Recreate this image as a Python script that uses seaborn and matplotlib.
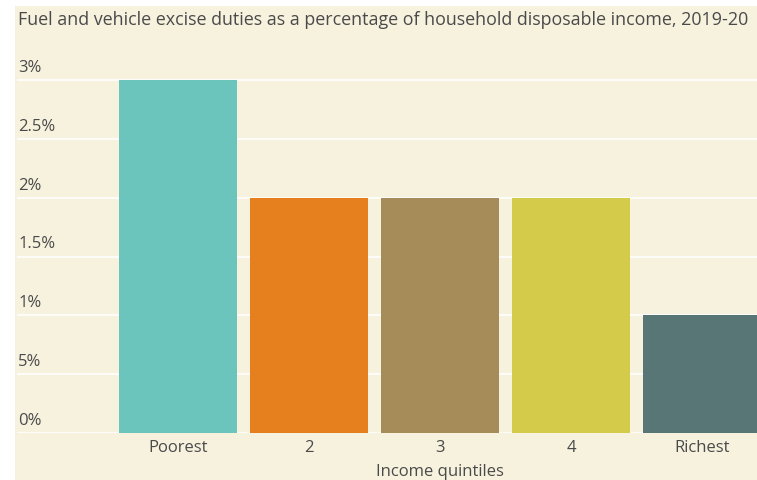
import matplotlib

matplotlib.use("Agg")

import matplotlib.pyplot as plt
import matplotlib.transforms as mtransforms
import pandas as pd
import seaborn as sns
from matplotlib.patches import Rectangle

# data
QUINTILES = ["Poorest", "2", "3", "4", "Richest"]
SHARE = [3.0, 2.0, 2.0, 2.0, 1.0]
Y_TICKS = [0, 0.5, 1, 1.5, 2, 2.5, 3]
Y_TICK_LABELS = ["0%", "5%", "1%", "1.5%", "2%", "2.5%", "3%"]
COLORS = ["#6cc5bc", "#e6801e", "#a58c58", "#d4cb4a", "#587676"]

TITLE = "Fuel and vehicle excise duties as a percentage of household disposable income, 2019-20"
X_LABEL = "Income quintiles"

BG = "#f7f2de"
TEXT = "#4a4a4a"


def main() -> None:
    sns.set_theme(style="white")
    plt.rcParams["font.family"] = ["Open Sans", "DejaVu Sans"]

    data = pd.DataFrame({"quintile": QUINTILES, "share": SHARE})

    W, H = 757, 480
    fig = plt.figure(figsize=(W / 100, H / 100), dpi=100, facecolor="white")
    fig.patches.append(
        Rectangle((15 / W, 0), 1, (H - 6) / H, transform=fig.transFigure,
                  facecolor=BG, edgecolor="none", zorder=-10)
    )

    ax_left, ax_right = 17, 757
    ax_bottom, ax_top = 433, 50
    ax = fig.add_axes([ax_left / W, (H - ax_bottom) / H,
                       (ax_right - ax_left) / W, (ax_bottom - ax_top) / H])
    ax.set_facecolor(BG)

    sns.barplot(
        data=data, x="quintile", y="share", hue="quintile",
        palette=COLORS, width=0.9, legend=False, saturation=1,
        linewidth=0, ax=ax,
    )

    px_per_unit = (433 - 80) / 3
    ax.set_ylim(0, 3 + (80 - ax_top) / px_per_unit)
    ax.set_xlim(-1.23, 4.42)

    ax.set_yticks(Y_TICKS)
    ax.set_yticklabels(Y_TICK_LABELS)
    ax.yaxis.grid(True, color="white", linewidth=1.2)
    ax.set_axisbelow(True)
    ax.tick_params(axis="y", length=0, pad=-1, labelsize=12, labelcolor=TEXT)
    offset = mtransforms.ScaledTranslation(0, 4 / 100, fig.dpi_scale_trans)
    for lab in ax.get_yticklabels():
        lab.set_horizontalalignment("left")
        lab.set_verticalalignment("bottom")
        lab.set_transform(lab.get_transform() + offset)

    ax.tick_params(axis="x", length=0, pad=5, labelsize=12, labelcolor=TEXT)
    ax.set_ylabel("")
    ax.set_xlabel(X_LABEL, fontsize=12, color=TEXT)
    ax.xaxis.set_label_coords(
        2, -0.08, transform=mtransforms.blended_transform_factory(ax.transData, ax.transAxes)
    )
    for spine in ax.spines.values():
        spine.set_visible(False)

    fig.text(18 / W, 1 - 20 / H, TITLE, fontsize=12.9, color=TEXT,
             ha="left", va="center")

    fig.savefig("out.png", dpi=100, facecolor=fig.get_facecolor())
    plt.close(fig)


if __name__ == "__main__":
    main()
